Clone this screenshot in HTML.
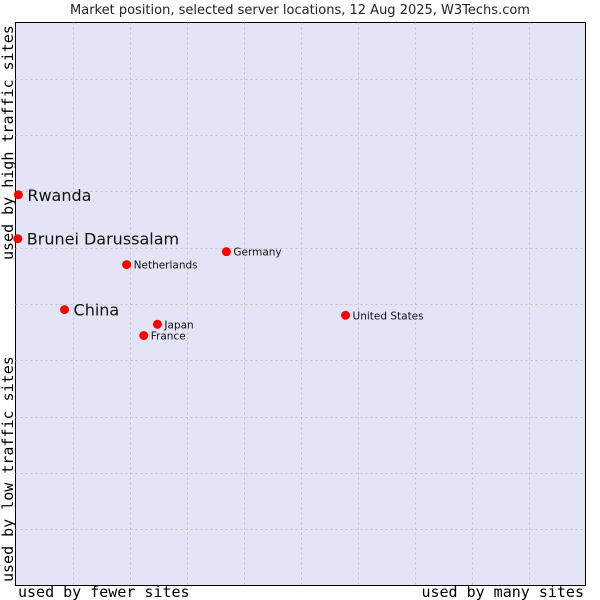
<!DOCTYPE html>
<html><head><meta charset="utf-8"><style>
body{margin:0;background:#fff;width:600px;height:600px;overflow:hidden}
svg{display:block}
</style></head><body>
<svg id="chart" width="600" height="600" xmlns="http://www.w3.org/2000/svg">
<text x="300" y="14" text-anchor="middle" font-family="DejaVu Sans, Liberation Sans, sans-serif" font-size="13" fill="#222">Market position, selected server locations, 12 Aug 2025, W3Techs.com</text>
<rect x="15.5" y="22.5" width="570" height="563" fill="#e3e5f7" stroke="#000" stroke-width="1"/>
<g id="grid"></g>
<g id="points"></g>
<text x="18" y="597" font-family="DejaVu Sans Mono, Liberation Mono, monospace" font-size="15" fill="#000">used by fewer sites</text>
<text x="584" y="597" text-anchor="end" font-family="DejaVu Sans Mono, Liberation Mono, monospace" font-size="15" fill="#000">used by many sites</text>
<text transform="translate(13,582) rotate(-90)" font-family="DejaVu Sans Mono, Liberation Mono, monospace" font-size="15" fill="#000">used by low traffic sites</text>
<text transform="translate(13,260) rotate(-90)" font-family="DejaVu Sans Mono, Liberation Mono, monospace" font-size="15" fill="#000">used by high traffic sites</text>
</svg>
<script>
const countries=["Rwanda","Brunei Darussalam","China","Netherlands","Germany","Japan","France","United States"];
const xValues=[0.5,0.4,8.6,19.5,37.0,24.9,22.5,57.9];
const yValues=[69.4,61.6,49.0,57.0,59.3,46.4,44.4,48.0];
const bigLabel=[true,true,true,false,false,false,false,false];
const gridTicks=[10,20,30,40,50,60,70,80,90];
const NS="http://www.w3.org/2000/svg";
const X0=15.5,X1=585.5,Y0=585.5,Y1=22.5;
function sx(v){return X0+(X1-X0)*v/100;}
function sy(v){return Y0-(Y0-Y1)*v/100;}
const grid=document.getElementById('grid');
gridTicks.forEach(t=>{
 const v=document.createElementNS(NS,'line');
 
 
 v.setAttribute('x1',Math.round(sx(t))+0.5);v.setAttribute('x2',Math.round(sx(t))+0.5);
 v.setAttribute('y1',Y1);v.setAttribute('y2',Y0);
 v.setAttribute('stroke','#c0c0c0');v.setAttribute('stroke-dasharray','2,3');
 grid.appendChild(v);
 const h=document.createElementNS(NS,'line');
 
 
 h.setAttribute('y1',Math.round(sy(t))+0.5);h.setAttribute('y2',Math.round(sy(t))+0.5);
 h.setAttribute('x1',X0);h.setAttribute('x2',X1);
 h.setAttribute('stroke','#c0c0c0');h.setAttribute('stroke-dasharray','2,3');
 grid.appendChild(h);
});
const pts=document.getElementById('points');
countries.forEach((c,i)=>{
 const x=sx(xValues[i]),y=sy(yValues[i]);
 const m=document.createElementNS(NS,'circle');
 
 
 m.setAttribute('cx',x);m.setAttribute('cy',y);m.setAttribute('r',4.5);m.setAttribute('fill','#f00');
 pts.appendChild(m);
 const t=document.createElementNS(NS,'text');
 
 
 t.setAttribute('x',x+(bigLabel[i]?9:7));
 t.setAttribute('y',y+(bigLabel[i]?6:4));
 t.setAttribute('font-family','DejaVu Sans, Liberation Sans, sans-serif');
 t.setAttribute('font-size',bigLabel[i]?16:10.5);
 t.setAttribute('fill','#111');
 t.textContent=c;
 pts.appendChild(t);
});
</script>
</body></html>
